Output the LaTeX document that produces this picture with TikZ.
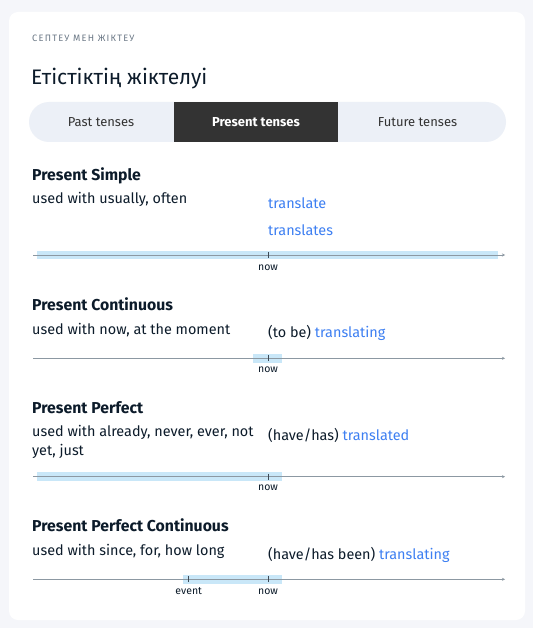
\documentclass[tikz,border=0pt]{standalone}
\usepackage{fontspec}
\setmainfont{Fira Sans}
\newfontfamily\hdrfont[LetterSpace=13]{Fira Sans}
\usetikzlibrary{arrows.meta}
\definecolor{bgc}{HTML}{F5F6FA}
\definecolor{tabc}{HTML}{ECF0F7}
\definecolor{darktab}{HTML}{333333}
\definecolor{ink}{HTML}{0C1B2A}
\definecolor{hdrc}{HTML}{6B7886}
\definecolor{bluew}{HTML}{3D7FF2}
\definecolor{band}{HTML}{C9E7F8}
\definecolor{axis}{HTML}{8C98A2}
\tikzset{
  txt/.style={anchor=base west, inner sep=0pt, text=ink, font=\fontsize{14.4}{16}\selectfont},
  ttl/.style={anchor=base west, inner sep=0pt, text=ink, font=\fontsize{15.8}{18}\selectfont\bfseries},
  bw/.style={text=bluew},
  tablbl/.style={anchor=base, inner sep=0pt, font=\fontsize{13}{15}\selectfont},
  ticklbl/.style={anchor=base, inner sep=0pt, text=ink, font=\fontsize{10.5}{12}\selectfont},
  bandbox/.style={fill=band},
  axisline/.style={draw=axis, line width=0.9pt, -{Stealth[length=3pt,width=3pt]}},
  tickmark/.style={draw=ink!80, line width=0.9pt}
}
\begin{document}
\begin{tikzpicture}[x=1pt,y=-1pt]
\useasboundingbox (0,0) rectangle (533,628);
\fill[bgc] (0,0) rectangle (533,628);
\fill[white, rounded corners=9pt] (9,12) rectangle (525,620);
% header
\node[anchor=base west, inner sep=0pt, text=hdrc, font=\fontsize{9.3}{11}\selectfont\hdrfont] (hdr) at (32,41.7) {СЕПТЕУ МЕН ЖІКТЕУ};
\node[anchor=base west, inner sep=0pt, text=ink, font=\fontsize{21}{24}\selectfont] (title) at (31,84.3) {Етістіктің жіктелуі};
% tabs
\fill[tabc, rounded corners=20pt] (29,102) rectangle (506,142);
\fill[darktab] (174,102) rectangle (338,142);
\node[tablbl, text=darktab] (past) at (101,126.7) {Past tenses};
\node[tablbl, text=white, font=\fontsize{13}{15}\selectfont\bfseries] (pres) at (256,126.7) {Present tenses};
\node[tablbl, text=darktab] (fut) at (417.5,126.7) {Future tenses};

% ---- Present Simple
\node[ttl] (ps) at (32,181) {Present Simple};
\node[txt] (psu) at (32,204) {used with usually, often};
\node[txt, bw] (psf1) at (268,208.7) {translate};
\node[txt, bw] (psf2) at (268,235) {translates};
\coordinate (a1s) at (33,255);
\coordinate (a1e) at (505,255);
\fill[bandbox] (37,251) rectangle (498,259.3);
\draw[axisline] (a1s) -- (a1e);
\draw[tickmark] (268,252) -- (268,258);
\node[ticklbl] (now1) at (268,270) {now};

% ---- Present Continuous
\node[ttl] (pc) at (32,310.7) {Present Continuous};
\node[txt] (pcu) at (32,334) {used with now, at the moment};
\node[txt] (pcf) at (268,337.3) {(to be) \textcolor{bluew}{translating}};
\coordinate (a2s) at (33,358.3);
\coordinate (a2e) at (505,358.3);
\fill[bandbox] (252.7,353.7) rectangle (282,362.7);
\draw[axisline] (a2s) -- (a2e);
\draw[tickmark] (268,355.3) -- (268,361.3);
\node[ticklbl] (now2) at (268,372) {now};

% ---- Present Perfect
\node[ttl] (pp) at (32,413.3) {Present Perfect};
\node[txt] (ppu1) at (32,436.7) {used with already, never, ever, not};
\node[txt] (ppu2) at (32,455) {yet, just};
\node[txt] (ppf) at (268,440) {(have/has) \textcolor{bluew}{translated}};
\coordinate (a3s) at (33,476.7);
\coordinate (a3e) at (505,476.7);
\fill[bandbox] (37,472.3) rectangle (282,480.7);
\draw[axisline] (a3s) -- (a3e);
\draw[tickmark] (268,473.7) -- (268,479.7);
\node[ticklbl] (now3) at (268,490.7) {now};

% ---- Present Perfect Continuous
\node[ttl] (ppc) at (32,531.7) {Present Perfect Continuous};
\node[txt] (ppcu) at (32,555) {used with since, for, how long};
\node[txt] (ppcf) at (268,559) {(have/has been) \textcolor{bluew}{translating}};
\coordinate (a4s) at (33,579.3);
\coordinate (a4e) at (505,579.3);
\fill[bandbox] (183,575) rectangle (282,584);
\draw[axisline] (a4s) -- (a4e);
\draw[tickmark] (188.7,576.3) -- (188.7,582.3);
\draw[tickmark] (268,576.3) -- (268,582.3);
\node[ticklbl] (ev4) at (188.7,594) {event};
\node[ticklbl] (now4) at (268,594) {now};
\end{tikzpicture}
\end{document}
